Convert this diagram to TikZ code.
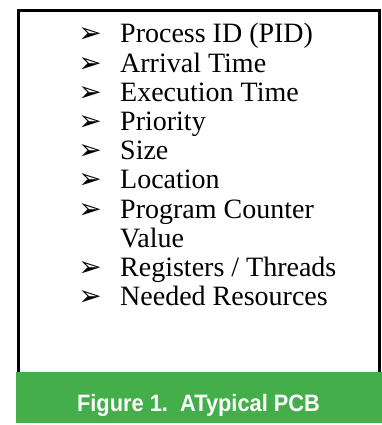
\documentclass[tikz,border=0pt]{standalone}
\usepackage{fontspec}
\setmainfont{Liberation Serif}
\newfontfamily\bulletfont{DejaVu Sans}
\newfontfamily\capfont[FakeStretch=0.92]{Liberation Sans}
\definecolor{capgreen}{HTML}{43AE4A}
\begin{document}
\begin{tikzpicture}[x=1pt,y=1pt,
  itemtext/.style={anchor=base west,inner sep=0pt,font=\fontsize{28}{30}\selectfont},
  bul/.style={anchor=center,inner sep=0pt,font=\bulletfont\fontsize{28}{30}\selectfont},
  frame/.style={draw=black,line width=3pt},
  capbar/.style={fill=capgreen,draw=none}]
\useasboundingbox (0,0) rectangle (382,425);
\draw[frame] (18,53) -- (18,414.5) -- (379.5,414.5) -- (379.5,53);
\fill[capbar] (16,2) rectangle (382,53);
\node[anchor=base,inner sep=0pt,text=white,font=\capfont\bfseries\fontsize{23.7}{26}\selectfont] (cap) at (198.5,13) {Figure 1.\ \ A\kern-1.5pt Typical PCB};
\foreach \i/\t in {0/{Process ID (PID)},1/{Arrival Time},2/{Execution Time},3/{Priority},4/{Size},5/{Location},6/{Program Counter},8/{Registers / Threads},9/{Needed Resources}}{
  \node[bul] (b\i) at (90,{382+7.5-29.2*\i}) {➢};
  \node[itemtext] (t\i) at (120,{382-29.2*\i}) {\t};
}
\node[itemtext] (t7) at (120,{382-29.2*7}) {Value};
\end{tikzpicture}
\end{document}
